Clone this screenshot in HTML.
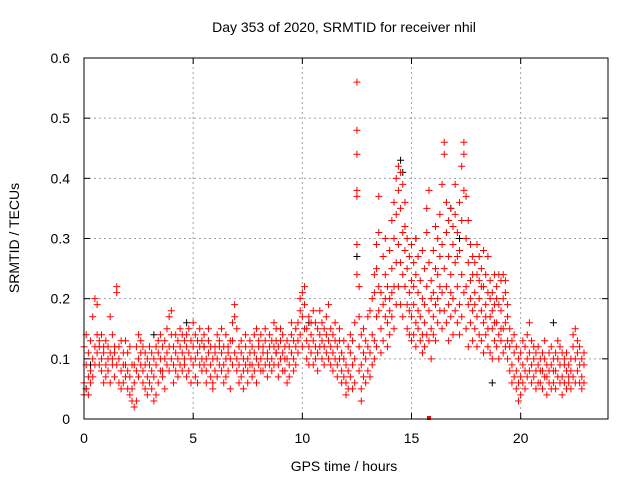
<!DOCTYPE html>
<html><head><meta charset="utf-8"><style>
body{margin:0;background:#fff}
svg{display:block;font-family:"Liberation Sans",sans-serif}
</style></head><body>
<svg id="chart" width="640" height="480">
<text x="344" y="32" font-size="14" text-anchor="middle">Day 353 of 2020, SRMTID for receiver nhil</text>
<text x="344" y="471" font-size="14" text-anchor="middle">GPS time / hours</text>
<text transform="translate(19,238) rotate(-90)" font-size="14" text-anchor="middle">SRMTID / TECUs</text>
<g id="grid"></g>
<g id="ticks"></g>
<g id="black" stroke="#000" stroke-width="1"></g>
<g id="red" stroke="#f00" stroke-width="1"></g>
<rect x="84" y="58" width="524" height="361" fill="none" stroke="#000" stroke-width="1"/>
</svg>
<script>
const xTicks=[0,5,10,15,20];
const yTicks=[0,0.1,0.2,0.3,0.4,0.5,0.6];
const yTickLabels=["0","0.1","0.2","0.3","0.4","0.5","0.6"];
const times=[0.0,0.1,0.2,0.3,0.4,0.5,0.6,0.7,0.8,0.9,1.0,1.1,1.2,1.3,1.4,1.5,1.6,1.7,1.8,1.9,2.0,2.1,2.2,2.3,2.4,2.5,2.6,2.7,2.8,2.9,3.0,3.1,3.2,3.3,3.4,3.5,3.6,3.7,3.8,3.9,4.0,4.1,4.2,4.3,4.4,4.5,4.6,4.7,4.8,4.9,5.0,5.1,5.2,5.3,5.4,5.5,5.6,5.7,5.8,5.9,6.0,6.1,6.2,6.3,6.4,6.5,6.6,6.7,6.8,6.9,7.0,7.1,7.2,7.3,7.4,7.5,7.6,7.7,7.8,7.9,8.0,8.1,8.2,8.3,8.4,8.5,8.6,8.7,8.8,8.9,9.0,9.1,9.2,9.3,9.4,9.5,9.6,9.7,9.8,9.9,10.0,10.1,10.2,10.3,10.4,10.5,10.6,10.7,10.8,10.9,11.0,11.1,11.2,11.3,11.4,11.5,11.6,11.7,11.8,11.9,12.0,12.1,12.2,12.3,12.4,12.5,12.6,12.7,12.8,12.9,13.0,13.1,13.2,13.3,13.4,13.5,13.6,13.7,13.8,13.9,14.0,14.1,14.2,14.3,14.4,14.5,14.6,14.7,14.8,14.9,15.0,15.1,15.2,15.3,15.4,15.5,15.6,15.7,15.8,15.9,16.0,16.1,16.2,16.3,16.4,16.5,16.6,16.7,16.8,16.9,17.0,17.1,17.2,17.3,17.4,17.5,17.6,17.7,17.8,17.9,18.0,18.1,18.2,18.3,18.4,18.5,18.6,18.7,18.8,18.9,19.0,19.1,19.2,19.3,19.4,19.5,19.6,19.7,19.8,19.9,20.0,20.1,20.2,20.3,20.4,20.5,20.6,20.7,20.8,20.9,21.0,21.1,21.2,21.3,21.4,21.5,21.6,21.7,21.8,21.9,22.0,22.1,22.2,22.3,22.4,22.5,22.6,22.7,22.8,22.9];
const srmtid=[
[.06,.12,.04],[.09,.14,.05],[.07,.11,.04],[.13,.08,.06],[.17,.10,.07],[.20,.12,.09],[.19,.14,.11],[.12,.09,.13],[.10,.08,.14],[.11,.06,.12],
[.13,.09,.07],[.10,.12,.08],[.17,.11,.06],[.14,.09,.10],[.12,.07,.11],[.22,.21,.09],[.10,.12,.06],[.08,.13,.05],[.06,.11,.09],[.09,.13,.07],
[.11,.08,.05],[.07,.12,.04],[.05,.09,.03],[.02,.06,.09],[.03,.12,.08],[.10,.14,.07],[.13,.11,.09],[.12,.08,.06],[.09,.05,.11],[.07,.10,.04],
[.06,.09,.12],[.08,.11,.05],[.03,.07,.10],[.04,.09,.12],[.06,.11,.13],[.10,.14,.08],[.08,.12,.07],[.13,.10,.05],[.15,.09,.11],[.17,.12,.08],
[.18,.10,.14],[.12,.09,.06],[.14,.11,.08],[.10,.13,.07],[.09,.12,.15],[.11,.14,.08],[.13,.09,.10],[.14,.07,.12],[.08,.11,.15],[.10,.13,.06],
[.12,.16,.09],[.14,.10,.07],[.11,.13,.06],[.09,.12,.15],[.13,.08,.10],[.12,.14,.09],[.10,.06,.08],[.15,.11,.13],[.09,.07,.12],[.06,.10,.05],
[.08,.12,.11],[.10,.14,.07],[.12,.09,.13],[.11,.15,.08],[.09,.06,.12],[.14,.10,.07],[.12,.08,.11],[.10,.13,.05],[.13,.09,.16],[.19,.17,.11],
[.15,.10,.08],[.09,.12,.06],[.11,.07,.13],[.08,.10,.05],[.12,.14,.09],[.10,.08,.06],[.13,.11,.09],[.09,.12,.07],[.11,.08,.14],[.15,.10,.06],
[.12,.09,.13],[.10,.14,.08],[.08,.11,.12],[.13,.15,.09],[.11,.07,.10],[.14,.09,.12],[.10,.13,.08],[.12,.16,.09],[.15,.11,.13],[.09,.12,.07],
[.13,.10,.15],[.11,.14,.08],[.08,.12,.10],[.10,.06,.13],[.12,.09,.07],[.14,.11,.16],[.10,.13,.08],[.12,.15,.09],[.16,.11,.13],[.18,.14,.20],
[.21,.17,.12],[.19,.22,.15],[.15,.10,.13],[.12,.17,.09],[.14,.11,.16],[.13,.09,.18],[.16,.12,.10],[.11,.15,.08],[.14,.18,.12],[.10,.13,.16],
[.12,.15,.09],[.17,.11,.14],[.13,.19,.10],[.15,.12,.09],[.11,.14,.08],[.16,.10,.13],[.09,.12,.07],[.13,.10,.15],[.08,.11,.06],[.10,.07,.13],
[.06,.09,.04],[.08,.12,.05],[.11,.07,.14],[.05,.09,.13],[.16,.10,.06],[.56,.48,.44,.38,.37,.29,.24],[.17,.12,.08,.22],[.09,.05,.03,.14],[.11,.07,.15],[.06,.10,.13],
[.08,.12,.17],[.11,.18,.07],[.14,.20,.09],[.13,.21,.10,.24],[.17,.25,.29,.12],[.22,.31,.18,.37],[.15,.21,.11],[.19,.27,.13],[.24,.17,.20,.30],[.16,.22,.12],
[.20,.28,.18,.14],[.25,.33,.17,.21],[.22,.30,.36,.15],[.26,.34,.19,.40],[.29,.38,.42,.22],[.35,.41,.26,.19],[.31,.39,.24,.17],[.28,.36,.22,.32],[.25,.19,.30,.15],[.21,.27,.14,.18],
[.23,.17,.29,.13],[.19,.26,.14,.22],[.24,.16,.30,.12],[.21,.18,.27,.15],[.17,.23,.13],[.20,.14,.28,.11],[.16,.25,.12,.19],[.22,.31,.14,.35],[.18,.26,.13,.38],[.15,.23,.10,.20],
[.21,.28,.14,.17],[.19,.25,.13,.32],[.24,.16,.30,.20],[.27,.34,.18,.22],[.21,.29,.39,.15],[.25,.46,.44,.18],[.22,.31,.16,.36],[.19,.27,.13,.33],[.24,.35,.17,.21],[.20,.29,.14,.32],
[.26,.34,.18,.39],[.22,.31,.16,.27],[.28,.19,.36,.14],[.33,.42,.24,.17],[.46,.44,.38,.21],[.30,.22,.37,.15],[.26,.19,.33,.12],[.23,.29,.16,.20],[.27,.18,.24,.13],[.21,.26,.15,.19],
[.24,.17,.29,.12],[.20,.27,.14,.23],[.18,.25,.13,.22],[.22,.16,.28,.11],[.19,.24,.14,.17],[.21,.15,.27,.12],[.17,.23,.11,.20],[.15,.21,.10,.18],[.19,.13,.24,.16],[.16,.22,.12,.20],
[.14,.19,.10,.24],[.18,.13,.23,.15],[.24,.20,.15,.11],[.23,.16,.12,.21],[.17,.13,.19,.10],[.12,.15,.08],[.09,.13,.06],[.11,.07,.14],[.08,.12,.05],[.10,.06,.03],
[.07,.11,.04],[.09,.13,.06],[.12,.08,.05],[.10,.14,.07],[.08,.11,.16],[.13,.09,.06],[.07,.10,.12],[.11,.08,.05],[.09,.12,.06],[.06,.10,.08],
[.08,.11,.05],[.10,.07,.13],[.07,.09,.04],[.11,.08,.06],[.09,.12,.05],[.06,.10,.08],[.08,.05,.11],[.10,.07,.13],[.12,.09,.06],[.07,.11,.04],
[.09,.06,.10],[.11,.08,.05],[.06,.09,.07],[.08,.05,.10],[.12,.14,.07],[.10,.15,.06],[.13,.08,.11],[.09,.12,.06],[.07,.10,.05],[.06,.09,.11]];
const blackTimes=[0.1,0.3,3.2,4.7,10.3,12.5,14.5,14.6,15.2,16.8,17.2,18.7,21.5,5.5,8.8];
const blackValues=[.05,.09,.14,.16,.16,.27,.43,.41,.30,.35,.30,.06,.16,.12,.11];
const zeroTimes=[15.8];
const zeroValues=[0];
const X0=84,X1=608,Y0=419,Y1=58,XMAX=24,YMAX=0.6;
function sx(v){return X0+(X1-X0)*v/XMAX;}
function sy(v){return Y0-(Y0-Y1)*v/YMAX;}
const NS='http://www.w3.org/2000/svg';
function mk(tag,attrs,parent){const e=document.createElementNS(NS,tag);for(const k in attrs)e.setAttribute(k,attrs[k]);parent.appendChild(e);return e;}
const grid=document.getElementById('grid'),ticks=document.getElementById('ticks');
xTicks.forEach((t,i)=>{const x=sx(t);
 if(t>0){const l=mk('line',{x1:x,x2:x,y1:Y0,y2:Y1,stroke:'#a0a0a0','stroke-dasharray':'2,3'},grid);}
 mk('line',{x1:x,x2:x,y1:Y0,y2:Y0-6,stroke:'#000'},ticks);mk('line',{x1:x,x2:x,y1:Y1,y2:Y1+6,stroke:'#000'},ticks);
 const tx=mk('text',{x:x,y:Y0+24,'font-size':14,'text-anchor':'middle'},ticks);tx.textContent=String(t);
 });
yTicks.forEach((t,i)=>{const y=sy(t);
 if(t>0&&t<YMAX){const l=mk('line',{x1:X0,x2:X1,y1:y,y2:y,stroke:'#a0a0a0','stroke-dasharray':'2,3'},grid);}
 mk('line',{x1:X0,x2:X0+6,y1:y,y2:y,stroke:'#000'},ticks);mk('line',{x1:X1,x2:X1-6,y1:y,y2:y,stroke:'#000'},ticks);
 const tx=mk('text',{x:X0-14,y:y+5,'font-size':14,'text-anchor':'end'},ticks);tx.textContent=yTickLabels[i];
 });
function plus(g,t,v){const x=sx(t),y=sy(v);const p=mk('path',{d:`M${x-3.5} ${y}H${x+3.5}M${x} ${y-3.5}V${y+3.5}`},g);
 }
const bg=document.getElementById('black'),rg=document.getElementById('red');
blackTimes.forEach((t,i)=>plus(bg,t,blackValues[i]));
times.forEach((t,i)=>srmtid[i].forEach(v=>plus(rg,t,v)));
zeroTimes.forEach((t,i)=>{const r=mk('rect',{x:sx(t)-2,y:sy(zeroValues[i])-3,width:4,height:4,fill:'#f00',stroke:'none'},rg);
 });
</script>
</body></html>
